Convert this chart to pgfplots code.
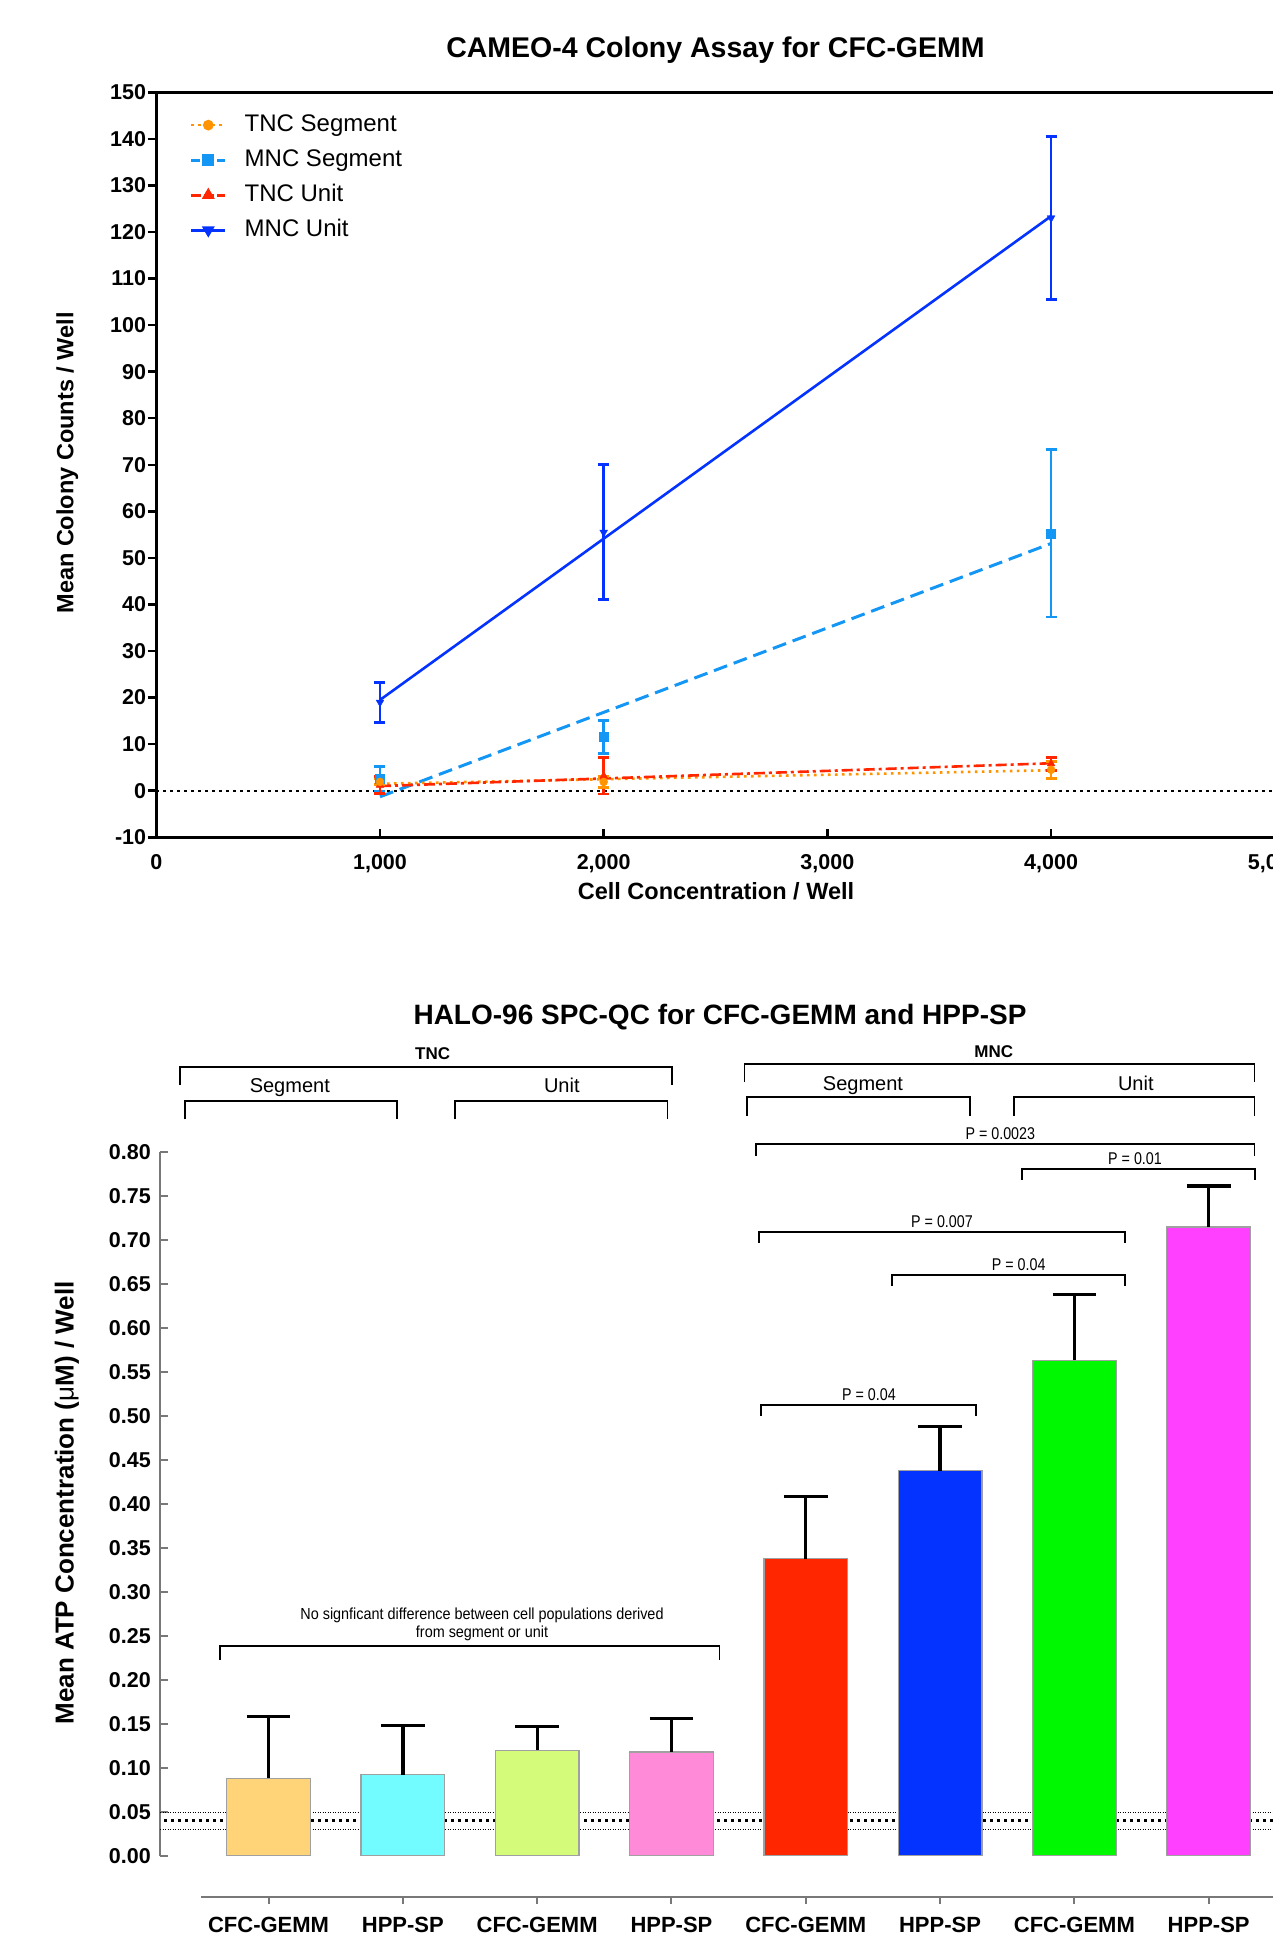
\documentclass[border=0pt]{standalone}
\usepackage{fontspec}
\setmainfont{Liberation Sans}
\newfontfamily\narrowP[FakeStretch=0.84]{Liberation Sans}
\newfontfamily\narrowT[FakeStretch=0.9]{Liberation Sans}
\usepackage{pgfplots}
\pgfplotsset{compat=1.18}
\newcommand\fs[1]{\fontsize{#1}{#1}\selectfont}
\definecolor{cOrange}{RGB}{255,147,0}
\definecolor{cLBlue}{RGB}{20,150,245}
\definecolor{cRed}{RGB}{255,38,0}
\definecolor{cBlue}{RGB}{4,51,255}
\definecolor{bOrange}{RGB}{255,212,121}
\definecolor{bCyan}{RGB}{115,252,255}
\definecolor{bLGreen}{RGB}{212,251,121}
\definecolor{bPink}{RGB}{255,138,216}
\definecolor{bRed}{RGB}{255,38,0}
\definecolor{bBlue}{RGB}{4,51,255}
\definecolor{bGreen}{RGB}{0,249,0}
\definecolor{bMag}{RGB}{255,64,255}
\definecolor{barEdge}{RGB}{160,160,160}
\definecolor{axGray}{RGB}{120,120,120}
\pgfplotsset{
  errst/.style={only marks, color=#1, forget plot, error bars/.cd, y dir=both, y explicit,
    error bar style={line width=2.8pt, solid, #1},
    error mark options={rotate=90, #1, mark size=5.5pt, line width=2.8pt, solid}},
  barst/.style={ybar, bar width=83.7pt, bar shift=0pt, draw=barEdge, line width=1.2pt, forget plot,
    error bars/.cd, y dir=plus, y explicit,
    error bar style={black, line width=3.3pt},
    error mark options={rotate=90, black, mark size=21.85pt, line width=3.3pt}},
}
\newcommand\brk[4]{\draw[line width=1.8pt, line join=miter] (#1pt,#4pt) -- (#1pt,#3pt) -- (#2pt,#3pt) -- (#2pt,#4pt);}
\begin{document}
\begin{tikzpicture}
\path[use as bounding box] (0,0) rectangle (1273pt,1936pt);

% ---------------- top chart ----------------
\begin{axis}[
  at={(156.3pt,1098.7pt)}, anchor=south west,
  scale only axis, width=1118.5pt, height=745pt,
  xmin=0, xmax=5000, ymin=-10, ymax=150,
  enlargelimits=false,
  axis line style={line width=3pt},
  xtick={0,1000,2000,3000,4000,5000},
  xticklabels={0,{1,000},{2,000},{3,000},{4,000},{5,000}},
  ytick={-10,0,10,20,30,40,50,60,70,80,90,100,110,120,130,140,150},
  yticklabels={-10,0,10,20,30,40,50,60,70,80,90,100,110,120,130,140,150},
  xtick pos=left, ytick pos=left,
  tick align=inside, major tick length=8.5pt,
  tick style={black, line width=2.5pt},
  ytick style={xshift=-8.5pt},
  xticklabel style={anchor=north, inner sep=0pt, yshift=-16.7pt, font=\bfseries\fs{21.5}},
  yticklabel style={anchor=east, inner sep=0pt, xshift=-10pt, font=\bfseries\fs{21.5}},
  legend style={at={(0,1)}, anchor=north west, xshift=33.5pt, yshift=-21.6pt,
    draw=none, fill=none, inner sep=0pt, outer sep=0pt, row sep=12.5pt, column sep=17.9pt,
    font=\fs{24}, nodes={inner sep=0pt, text height=17.5pt, text depth=5pt}},
  legend cell align=left,
  legend image code/.code={\draw[mark repeat=2,mark phase=2,#1] plot coordinates {(0pt,0pt) (17pt,0pt) (34pt,0pt)};},
]
\addlegendimage{cOrange, line width=2.6pt, dash pattern=on 2.6pt off 4.4pt, mark=*, mark size=4pt, mark options={solid}}
\addlegendentry{TNC Segment}
\addlegendimage{cLBlue, line width=3pt, dash pattern=on 9pt off 4pt, mark=square*, mark size=4.5pt, mark options={solid}}
\addlegendentry{MNC Segment}
\addlegendimage{cRed, line width=3pt, dash pattern=on 10pt off 3pt, mark=triangle*, mark size=4.5pt, mark options={solid}}
\addlegendentry{TNC Unit}
\addlegendimage{cBlue, line width=3pt, mark=triangle*, mark size=4.5pt, mark options={rotate=180}}
\addlegendentry{MNC Unit}

\addplot[black, line width=2.2pt, dash pattern=on 2.2pt off 4.8pt, forget plot] coordinates {(0,0) (5000,0)};
% regression lines
\addplot[cLBlue, line width=3pt, dash pattern=on 14pt off 7pt, forget plot] coordinates {(1000,-1.3) (4000,53.1)};
\addplot[cBlue, line width=2.6pt, forget plot] coordinates {(1000,19.5) (4000,123.4)};
\addplot[cOrange, line width=2.6pt, dash pattern=on 2.6pt off 4.4pt, forget plot] coordinates {(1000,1.5) (4000,4.4)};
\addplot[cRed, line width=2.6pt, dash pattern=on 11pt off 4pt on 3pt off 4pt, forget plot] coordinates {(1000,1.0) (4000,5.9)};
% means with error bars
\addplot[mark=square*, mark size=4.5pt, errst=cLBlue] coordinates {(1000,2.5) +- (0,2.7) (2000,11.5) +- (0,3.5) (4000,55.3) +- (0,18)};
\addplot[mark=triangle*, mark size=4.5pt, mark options={rotate=180}, errst=cBlue] coordinates {(1000,19) +- (0,4.3) (2000,55.5) +- (0,14.5) (4000,123) +- (0,17.5)};
\addplot[mark=triangle*, mark size=4.5pt, errst=cRed] coordinates {(1000,1.2) +- (0,1.8) (2000,3.2) +- (0,3.9) (4000,5.8) +- (0,1.4)};
\addplot[mark=*, mark size=4pt, errst=cOrange] coordinates {(1000,1.9) +- (0,0.6) (2000,1.9) +- (0,1.2) (4000,4.5) +- (0,1.8)};
\end{axis}

\node[anchor=base, font=\bfseries\fs{28.5}] at (715.5pt,1878.7pt) {CAMEO-4 Colony Assay for CFC-GEMM};
\node[rotate=90, font=\bfseries\fs{23.5}] at (67.3pt,1473pt) {Mean Colony Counts / Well};
\node[anchor=base, font=\bfseries\fs{23.5}] at (716pt,1036pt) {Cell Concentration / Well};

% ---------------- bottom chart ----------------
\begin{axis}[
  at={(160pt,80.3pt)}, anchor=south west,
  x=134.3pt, y=879pt,
  xmin=-0.8086, xmax=7.6, ymin=0, ymax=0.8,
  enlargelimits=false,
  axis x line=none, axis y line=left,
  axis line style={axGray, line width=2pt, -},
  xtick=\empty,
  ytick={0,0.05,0.1,0.15,0.2,0.25,0.3,0.35,0.4,0.45,0.5,0.55,0.6,0.65,0.7,0.75,0.8},
  yticklabels={0.00,0.05,0.10,0.15,0.20,0.25,0.30,0.35,0.40,0.45,0.50,0.55,0.60,0.65,0.70,0.75,0.80},
  tick align=inside, major tick length=7.5pt,
  tick style={axGray, line width=2pt},
  yticklabel style={anchor=east, inner sep=0pt, xshift=-9pt, font=\bfseries\fs{21.5}},
]
\addplot[black, line width=1pt, dash pattern=on 1pt off 1.5pt, forget plot] coordinates {(-0.8086,0.0497) (7.6,0.0497)};
\addplot[black, line width=1pt, dash pattern=on 1pt off 1.5pt, forget plot] coordinates {(-0.8086,0.030) (7.6,0.030)};
\addplot[black, line width=2.6pt, dash pattern=on 2.6pt off 4.4pt, forget plot] coordinates {(-0.83,0.040) (7.6,0.040)};
\addplot[fill=bOrange, barst] coordinates {(0,0.088) +- (0,0.070)};
\addplot[fill=bCyan, barst] coordinates {(1,0.092) +- (0,0.056)};
\addplot[fill=bLGreen, barst] coordinates {(2,0.120) +- (0,0.027)};
\addplot[fill=bPink, barst] coordinates {(3,0.118) +- (0,0.038)};
\addplot[fill=bRed, barst] coordinates {(4,0.338) +- (0,0.071)};
\addplot[fill=bBlue, barst] coordinates {(5,0.438) +- (0,0.0505)};
\addplot[fill=bGreen, barst] coordinates {(6,0.5636) +- (0,0.075)};
\addplot[fill=bMag, barst] coordinates {(7,0.7153) +- (0,0.0467)};
\end{axis}

% detached category axis
\begin{axis}[
  at={(201pt,39.3pt)}, anchor=south west,
  x=134.3pt, y=1pt,
  xmin=-0.503, xmax=7.6, ymin=0, ymax=1,
  enlargelimits=false,
  axis y line=none, axis x line=bottom,
  axis line style={axGray, line width=2pt, -},
  ytick=\empty,
  xtick={0,1,2,3,4,5,6,7},
  xticklabels={CFC-GEMM,HPP-SP,CFC-GEMM,HPP-SP,CFC-GEMM,HPP-SP,CFC-GEMM,HPP-SP},
  tick align=inside, major tick length=7pt,
  tick style={axGray, line width=2pt},
  xtick style={yshift=-7pt},
  xticklabel style={anchor=north, inner sep=0pt, yshift=-20.3pt, font=\bfseries\fs{22}},
]
\addplot[draw=none, forget plot] coordinates {(0,0.5)};
\end{axis}

\node[anchor=base, font=\bfseries\fs{28}] at (720pt,911pt) {HALO-96 SPC-QC for CFC-GEMM and HPP-SP};
\node[rotate=90, font=\bfseries\fs{26}] at (67pt,433pt) {Mean ATP Concentration ({\mdseries μ}M) / Well};

% group brackets
\brk{180.2}{672.2}{869.3}{851}
\brk{185.1}{397}{835.3}{816.7}
\brk{454.7}{667.4}{835.3}{816.7}
\brk{744.5}{1254.4}{872}{854.3}
\brk{747}{970.2}{839}{820}
\brk{1014}{1254.4}{839}{820}
\node[anchor=base, font=\bfseries\fs{17}] at (432.7pt,876pt) {TNC};
\node[anchor=base, font=\bfseries\fs{17}] at (993.7pt,878.3pt) {MNC};
\node[anchor=base, font=\fs{20}] at (289.8pt,843.3pt) {Segment};
\node[anchor=base, font=\fs{20}] at (561.8pt,843.3pt) {Unit};
\node[anchor=base, font=\fs{20}] at (863pt,845pt) {Segment};
\node[anchor=base, font=\fs{20}] at (1135.8pt,845pt) {Unit};

% significance brackets
\brk{755.9}{1254.4}{792.3}{780}
\brk{1021.9}{1254.9}{766.7}{756}
\brk{759.1}{1124.9}{704.3}{693.3}
\brk{891.9}{1124.9}{661}{650}
\brk{760.7}{975.9}{531}{520}
\brk{219.6}{719.5}{290.3}{276}
\node[anchor=base, font=\narrowP\fs{17}] at (1000.3pt,796.3pt) {P = 0.0023};
\node[anchor=base, font=\narrowP\fs{17}] at (1135pt,771pt) {P = 0.01};
\node[anchor=base, font=\narrowP\fs{17}] at (942pt,708.7pt) {P = 0.007};
\node[anchor=base, font=\narrowP\fs{17}] at (1018.7pt,665pt) {P = 0.04};
\node[anchor=base, font=\narrowP\fs{17}] at (868.9pt,535.3pt) {P = 0.04};
\node[anchor=base, font=\narrowT\fs{16}] at (482pt,316.7pt) {No signficant difference between cell populations derived};
\node[anchor=base, font=\narrowT\fs{16}] at (482pt,298.7pt) {from segment or unit};
\end{tikzpicture}
\end{document}
